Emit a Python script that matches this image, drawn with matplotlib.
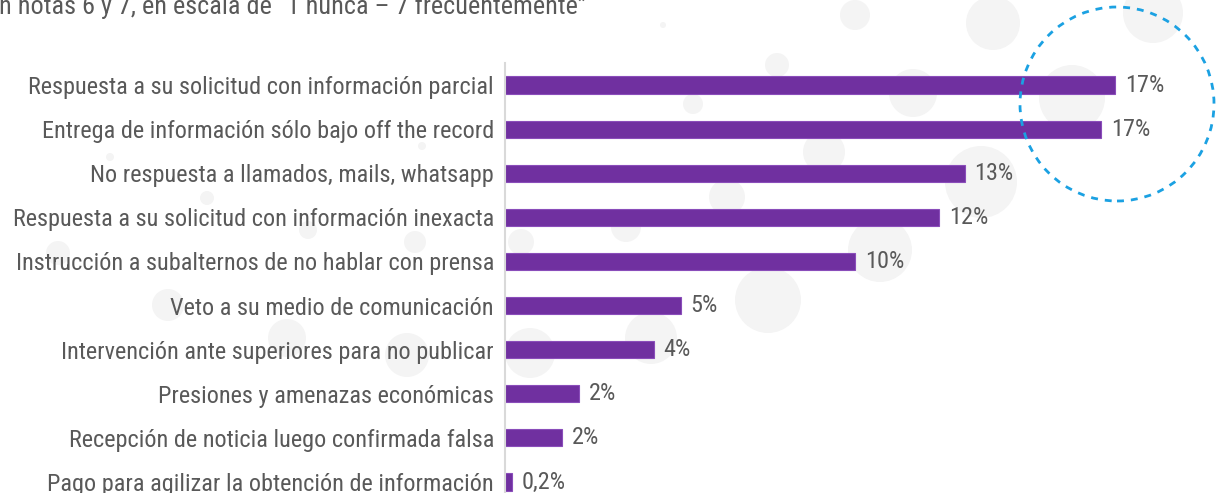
import matplotlib
matplotlib.use("Agg")
import matplotlib.pyplot as plt
from matplotlib import font_manager
from matplotlib.patches import Ellipse

categorias = [
    "Respuesta a su solicitud con información parcial",
    "Entrega de información sólo bajo off the record",
    "No respuesta a llamados, mails, whatsapp",
    "Respuesta a su solicitud con información inexacta",
    "Instrucción a subalternos de no hablar con prensa",
    "Veto a su medio de comunicación",
    "Intervención ante superiores para no publicar",
    "Presiones y amenazas económicas",
    "Recepción de noticia luego confirmada falsa",
    "Pago para agilizar la obtención de información",
]
valores = [17.0, 16.6, 12.8, 12.1, 9.75, 4.9, 4.15, 2.06, 1.6, 0.2]
etiquetas = ["17%", "17%", "13%", "12%", "10%", "5%", "4%", "2%", "2%", "0,2%"]
titulo = "n notas 6 y 7, en escala de \u201c1 nunca \u2013 7 frecuentemente\u201d"

# buscar una fuente estrecha instalada
fuentes = [(f.name, f.stretch) for f in font_manager.fontManager.ttflist]
nombres = {n for n, s in fuentes}
familia, ancho = 'DejaVu Sans', 'normal'
for cand in ['Liberation Sans Narrow', 'Roboto Condensed', 'Open Sans Condensed', 'Noto Sans Condensed']:
    if cand in nombres:
        familia = cand
        break
else:
    for n, s in fuentes:
        if n in ('Roboto', 'Noto Sans', 'Open Sans', 'DejaVu Sans') and s in ('condensed', 'semi-condensed', 'extra-condensed', 75, 62.5, 87.5):
            familia, ancho = n, s
            break
plt.rcParams['font.family'] = [familia, 'DejaVu Sans']
plt.rcParams['font.stretch'] = ancho

W, H = 1216, 493
fig = plt.figure(figsize=(W / 100, H / 100), dpi=100)


def tam_para(texto, px_obj, maximo):
    r = fig.canvas.get_renderer()
    t = fig.text(0, 0, texto, fontsize=16)
    w = t.get_window_extent(r).width
    t.remove()
    return min(maximo, 16 * px_obj / w)


fs = tam_para(categorias[0], 465, 18)
fs_tit = tam_para(titulo, 590, 22)

# burbujas decorativas de fondo (x, y desde arriba, radio) en pixeles
burbujas = [
    (855, 15, 15), (993, 23, 27), (1153, 13, 30), (777, 65, 12), (693, 104, 10),
    (913, 93, 24), (1072, 98, 33), (824, 152, 21), (981, 182, 36), (727, 197, 18),
    (626, 227, 15), (880, 250, 32), (663, 25, 3), (521, 242, 13), (768, 300, 33),
    (651, 338, 26), (530, 353, 25), (110, 157, 4), (207, 198, 7), (422, 146, 4),
    (308, 230, 9), (415, 242, 11), (58, 253, 12), (168, 305, 16), (287, 338, 19),
    (407, 355, 22),
]
for bx, by, rad in burbujas:
    fig.patches.append(Ellipse((bx, H - by), 2 * rad, 2 * rad, transform=None,
                               facecolor='#F4F4F4', edgecolor='none', zorder=-5))

# circulo punteado
fig.patches.append(Ellipse((1117, H - 104), 194, 194, transform=None,
                           facecolor='none', edgecolor='#1BA1E2', linestyle=(0, (2.5, 2.5)),
                           linewidth=2, zorder=5))

px = 35.9  # pixeles por punto porcentual
x0 = 505
ax = fig.add_axes([x0 / W, 0, (W - x0) / W, 430 / H])
ax.patch.set_alpha(0)
ax.set_xlim(0, (W - x0) / px)
ax.set_ylim(9.25, -0.5)

pos = list(range(len(categorias)))
ax.barh(pos, valores, height=0.39, color='#7030A0', edgecolor='#8A4DBA', linewidth=0.8)

for p, v, tx in zip(pos, valores, etiquetas):
    ax.annotate(tx, (v, p), xytext=(7, 0), textcoords='offset points',
                va='center', ha='left', fontsize=fs, color='#595959')

ax.set_yticks(pos)
ax.set_yticklabels(categorias, fontsize=fs, color='#595959')
ax.tick_params(axis='y', length=0, pad=8)
ax.set_xticks([])
for s in ['top', 'right', 'bottom']:
    ax.spines[s].set_visible(False)
ax.spines['left'].set_color('#D9D9D9')
ax.spines['left'].set_linewidth(1.5)

fig.text(-0.001, 1 - 14 / H, titulo, fontsize=fs_tit, color='#595959', va='baseline', ha='left')

fig.savefig("out.png", dpi=100)
